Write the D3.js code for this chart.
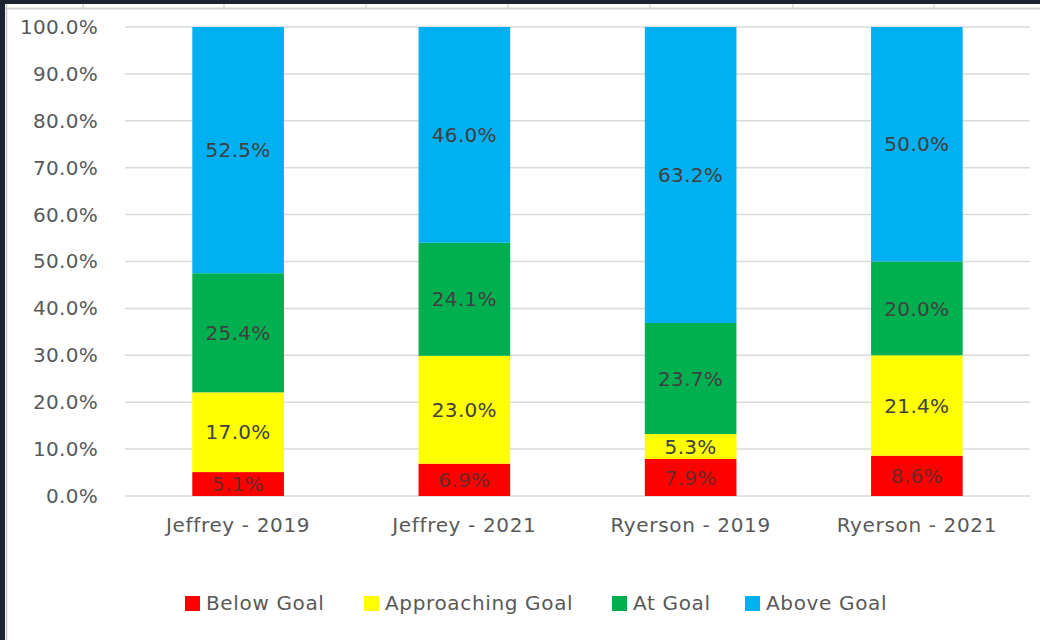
<!DOCTYPE html>
<html>
<head>
<meta charset="utf-8">
<script src="https://cdn.jsdelivr.net/npm/d3@7"></script>
<style>
  html, body { margin: 0; padding: 0; background: #fff; }
  svg { display: block; }
  text { font-family: "DejaVu Sans", "Noto Sans", sans-serif; letter-spacing: 0.3px; }
  .wide text, text.wide { letter-spacing: 0.65px; }
</style>
</head>
<body>
<svg id="chart" width="1040" height="640"></svg>
<script>
const categories = ["Jeffrey - 2019", "Jeffrey - 2021", "Ryerson - 2019", "Ryerson - 2021"];
const seriesNames = ["Below Goal", "Approaching Goal", "At Goal", "Above Goal"];
const belowGoal = [5.1, 6.9, 7.9, 8.6];
const approachingGoal = [17.0, 23.0, 5.3, 21.4];
const atGoal = [25.4, 24.1, 23.7, 20.0];
const aboveGoal = [52.5, 46.0, 63.2, 50.0];
const yTicks = [0, 10, 20, 30, 40, 50, 60, 70, 80, 90, 100];
const colors = ["#FF0000", "#FFFF00", "#00B050", "#00B0F0"];

const svg = d3.select("#chart");
const W = 1040, H = 640;

// frame (screenshot border)
svg.append("rect").attr("x", 0).attr("y", 0).attr("width", W).attr("height", H).attr("fill", "#fff");
svg.append("rect").attr("x", 0).attr("y", 0).attr("width", W).attr("height", 4).attr("fill", "#1d2331");
svg.append("rect").attr("x", 0).attr("y", 0).attr("width", 5).attr("height", H).attr("fill", "#1d2331");
svg.append("line").attr("x1", 5).attr("x2", W).attr("y1", 8.5).attr("y2", 8.5).attr("stroke", "#d4d4d4").attr("stroke-width", 2);
svg.append("line").attr("x1", 6.5).attr("x2", 6.5).attr("y1", 4).attr("y2", H).attr("stroke", "#c8c8c8").attr("stroke-width", 1.5);
[83, 224, 366, 508, 650, 793, 934].forEach(x => {
  svg.append("line").attr("x1", x).attr("x2", x).attr("y1", 4).attr("y2", 9).attr("stroke", "#c8c8c8");
});

const x = d3.scaleBand().domain(categories).range([125, 1030]).padding(0);
const y = d3.scaleLinear().domain([0, 100]).range([496, 27]);

// gridlines
svg.append("g").selectAll("line").data(yTicks).join("line")
  .attr("x1", 125).attr("x2", 1030)
  .attr("y1", d => y(d)).attr("y2", d => y(d))
  .attr("stroke", "#d9d9d9").attr("stroke-width", 1.5);

// y axis
const yAxis = d3.axisLeft(y).tickValues(yTicks).tickFormat(d => d.toFixed(1) + "%").tickSize(0).tickPadding(0);
const yg = svg.append("g").attr("transform", "translate(98,0)").call(yAxis);
yg.select(".domain").remove();
yg.selectAll("text").attr("font-size", 20).attr("fill", "#595959").attr("font-family", null);

// x axis
const xAxis = d3.axisBottom(x).tickSize(0).tickPadding(0);
const xg = svg.append("g").attr("class", "wide").attr("transform", "translate(0,518)").call(xAxis);
xg.select(".domain").remove();
xg.selectAll("text").attr("font-size", 20).attr("fill", "#595959").attr("font-family", null);

// stacks
const rows = categories.map((c, i) => ({
  cat: c, "Below Goal": belowGoal[i], "Approaching Goal": approachingGoal[i],
  "At Goal": atGoal[i], "Above Goal": aboveGoal[i]
}));
const stack = d3.stack().keys(seriesNames);
const stacked = stack(rows);
const barW = x.bandwidth() * 0.405;

stacked.forEach((s, si) => {
  const g = svg.append("g");
  g.selectAll("rect").data(s).join("rect")
    .attr("x", d => x(d.data.cat) + x.bandwidth() / 2 - barW / 2)
    .attr("width", barW)
    .attr("y", d => y(Math.min(d[1], 100)))
    .attr("height", d => y(d[0]) - y(Math.min(d[1], 100)))
    .attr("fill", colors[si]);
  g.selectAll("text").data(s).join("text")
    .attr("x", d => x(d.data.cat) + x.bandwidth() / 2)
    .attr("y", d => y((d[0] + Math.min(d[1], 100)) / 2))
    .attr("dy", "0.36em")
    .attr("text-anchor", "middle")
    .attr("font-size", 20)
    .attr("fill", si === 0 ? "#6e2626" : "#404040")
    .text(d => (d[1] - d[0]).toFixed(1) + "%");
});

// legend
const legendX = [185, 364, 612, 745];
const lg = svg.append("g").attr("class", "wide");
seriesNames.forEach((n, i) => {
  lg.append("rect").attr("x", legendX[i]).attr("y", 596).attr("width", 15).attr("height", 15).attr("fill", colors[i]);
  lg.append("text").attr("x", legendX[i] + 21).attr("y", 603).attr("dy", "0.36em")
    .attr("font-size", 20).attr("fill", "#595959").text(n);
});
</script>
</body>
</html>
